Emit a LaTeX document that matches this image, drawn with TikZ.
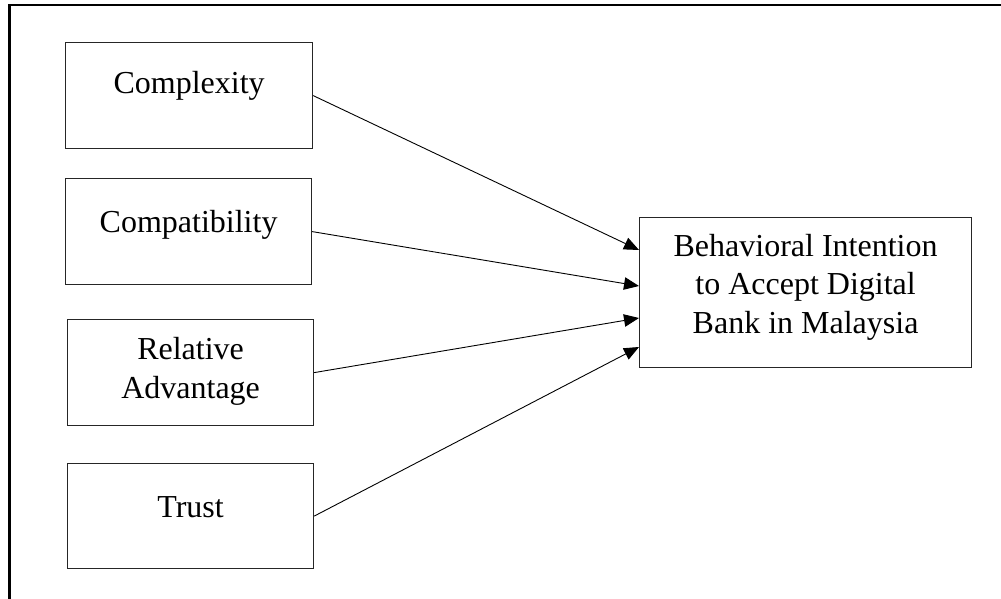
\documentclass[tikz,border=0pt]{standalone}
\usepackage{fontspec}
\setmainfont{Liberation Serif}
\usetikzlibrary{arrows.meta}
\begin{document}
\begin{tikzpicture}[x=1pt,y=-1pt,
  box/.style={draw=black!85,line width=1.2pt,minimum width=#1,inner sep=0pt,anchor=north west},
  lbl/.style={anchor=base,align=center,inner sep=0pt,font=\fontsize{32}{38.5}\selectfont},
  conn/.style={line width=0.9pt,-{Triangle[length=15pt,width=12.5pt]}}]
\useasboundingbox (0,0) rectangle (1001,599);
\draw[line width=2.2pt] (9.5,700) -- (9.5,5) -- (1100,5);
% input boxes
\node[box=247pt,minimum height=106pt] (cx) at (65,42) {};
\node[box=246pt,minimum height=106pt] (cp) at (65,178) {};
\node[box=246pt,minimum height=106pt] (ra) at (67,319) {};
\node[box=246pt,minimum height=105pt] (tr) at (67,463) {};
\node[box=332pt,minimum height=150pt] (bi) at (639,217) {};
% labels (base anchor = baseline of last line)
\node[lbl] (tcx) at (cx.center |- 0,94) {Complexity};
\node[lbl] (tcp) at (cp.center |- 0,232) {Compatibility};
\node[lbl] (tra) at (ra.center |- 0,398) {Relative\\Advantage};
\node[lbl] (ttr) at (tr.center |- 0,517) {Trust};
\node[lbl] (tbi) at (bi.center |- 0,333) {Behavioral Intention\\to Accept Digital\\Bank in Malaysia};
% arrow ends
\coordinate (e1) at (bi.west |- 0,250);
\coordinate (e2) at (bi.west |- 0,286);
\coordinate (e3) at (bi.west |- 0,318);
\coordinate (e4) at (bi.west |- 0,347);
\draw[conn] (cx.east) -- (e1);
\draw[conn] (cp.east) -- (e2);
\draw[conn] (ra.east) -- (e3);
\draw[conn] (tr.east) -- (e4);
\end{tikzpicture}
\end{document}
